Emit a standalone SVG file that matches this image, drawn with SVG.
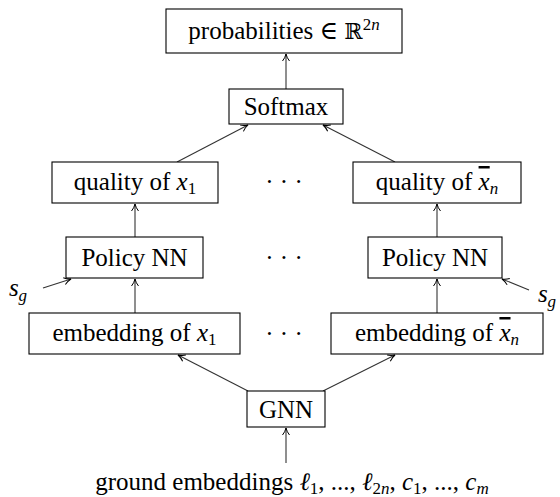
<svg xmlns="http://www.w3.org/2000/svg" width="560" height="497" viewBox="0 0 560 497">
<style>
.box{fill:#fff;stroke:#000;stroke-width:1.1}
.t{font-size:25px;fill:#000;text-anchor:middle}
.i{font-style:italic}
.ov{text-decoration:overline}
.c{fill:none;stroke:#333;stroke-width:1.1;marker-end:url(#ah)}
</style>
<defs>
<marker id="ah" viewBox="0 0 10 10" refX="9" refY="5" markerWidth="10" markerHeight="10" markerUnits="userSpaceOnUse" orient="auto">
<path d="M2,1.5 Q5,4 9,5 Q5,6 2,8.5" fill="none" stroke="#000" stroke-width="1"/>
</marker>
</defs>
<rect width="560" height="497" fill="#fff"/>
<g id="connectors">
<line class="c" x1="286" y1="89" x2="286" y2="54"/>
<line class="c" x1="177" y1="162" x2="248" y2="125"/>
<line class="c" x1="395" y1="162" x2="323" y2="125"/>
<line class="c" x1="135" y1="237" x2="135" y2="204"/>
<line class="c" x1="437" y1="237" x2="437" y2="204"/>
<line class="c" x1="135" y1="313" x2="135" y2="279"/>
<line class="c" x1="437" y1="313" x2="437" y2="279"/>
<line class="c" x1="43" y1="288" x2="71" y2="279"/>
<line class="c" x1="529" y1="290" x2="502" y2="279"/>
<line class="c" x1="248" y1="391" x2="178" y2="355"/>
<line class="c" x1="323" y1="391" x2="395" y2="355"/>
<line class="c" x1="286" y1="463" x2="286" y2="428"/>
</g>
<g font-family="Liberation Serif, Times New Roman, DejaVu Serif, serif">
<g id="probabilities">
<rect class="box" x="166" y="9" width="236" height="44"/>
<text class="t" x="284" y="39">probabilities ∈ <tspan font-family="DejaVu Serif" font-size="22">ℝ</tspan><tspan font-size="17" dy="-9">2</tspan><tspan class="i" font-size="17">n</tspan></text>
</g>
<g id="softmax">
<rect class="box" x="229" y="89" width="114" height="35"/>
<text class="t" x="286" y="115">Softmax</text>
</g>
<g id="quality1">
<rect class="box" x="52" y="162" width="166" height="41"/>
<text class="t" x="135" y="190">quality of <tspan class="i">x</tspan><tspan font-size="17" dy="4">1</tspan></text>
</g>
<g id="qualityn">
<rect class="box" x="353" y="162" width="168" height="41"/>
<text class="t" x="437" y="190">quality of <tspan class="i ov">x</tspan><tspan class="i" font-size="17" dy="4">n</tspan></text>
</g>
<g id="policy1">
<rect class="box" x="66" y="237" width="137" height="41"/>
<text class="t" x="134.5" y="266">Policy NN</text>
</g>
<g id="policyn">
<rect class="box" x="368" y="237" width="134" height="41"/>
<text class="t" x="435" y="266">Policy NN</text>
</g>
<g id="sg1">
<text class="t i" x="18" y="296">s<tspan font-size="17" dy="5">g</tspan></text>
</g>
<g id="sgn">
<text class="t i" x="547" y="302">s<tspan font-size="17" dy="5">g</tspan></text>
</g>
<g id="embedding1">
<rect class="box" x="29" y="313" width="211" height="41"/>
<text class="t" x="134.5" y="341">embedding of <tspan class="i">x</tspan><tspan font-size="17" dy="4">1</tspan></text>
</g>
<g id="embeddingn">
<rect class="box" x="331" y="313" width="212" height="41"/>
<text class="t" x="437" y="341">embedding of <tspan class="i ov">x</tspan><tspan class="i" font-size="17" dy="4">n</tspan></text>
</g>
<g id="dots">
<text class="t" x="284" y="190">· · ·</text>
<text class="t" x="284" y="266">· · ·</text>
<text class="t" x="284" y="342">· · ·</text>
</g>
<g id="gnn">
<rect class="box" x="247" y="391" width="78" height="36"/>
<text class="t" x="286" y="418">GNN</text>
</g>
<g id="ground">
<text class="t" x="292" y="490">ground embeddings <tspan class="i">ℓ</tspan><tspan font-size="17" dy="4">1</tspan><tspan dy="-4">, ..., </tspan><tspan class="i">ℓ</tspan><tspan font-size="17" dy="4">2</tspan><tspan class="i" font-size="17">n</tspan><tspan dy="-4">, </tspan><tspan class="i">c</tspan><tspan font-size="17" dy="4">1</tspan><tspan dy="-4">, ..., </tspan><tspan class="i">c</tspan><tspan class="i" font-size="17" dy="4">m</tspan></text>
</g>
</g>
</svg>
